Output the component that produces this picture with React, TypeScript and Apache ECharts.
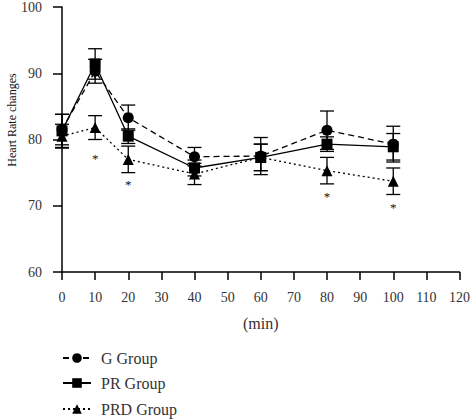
import React, { useEffect, useRef } from "react";
import * as echarts from "echarts";

const times = [0, 10, 20, 40, 60, 80, 100];
const gValues = [81.5, 90.3, 83.3, 77.4, 77.5, 81.4, 79.3];
const gErrors = [2.3, 1.8, 1.9, 1.4, 2.8, 2.9, 2.7];
const prValues = [81.3, 91.4, 80.5, 75.7, 77.3, 79.3, 78.9];
const prErrors = [2.5, 2.3, 1.1, 1.2, 2.0, 1.1, 2.0];
const prdValues = [80.5, 81.8, 77.0, 74.8, 77.3, 75.3, 73.7];
const prdErrors = [1.8, 1.8, 2.0, 1.6, 2.0, 2.0, 2.0];
const starTimes = [10, 20, 80, 100];
const starValues = [77.1, 73.2, 71.4, 69.7];
const seriesNames = ["G Group", "PR Group", "PRD Group"];

const FONT = "Liberation Serif";
const INK = "#333";

function errorSeries(values: number[], errors: number[]) {
  return {
    type: "custom",
    silent: true,
    z: 1,
    itemStyle: { color: "#000" },
    data: times.map((t, i) => [t, values[i] - errors[i], values[i] + errors[i]]),
    renderItem: (params: any, api: any) => {
      const x = api.value(0);
      const lo = api.coord([x, api.value(1)]);
      const hi = api.coord([x, api.value(2)]);
      const w = 7;
      const style = { stroke: "#000", lineWidth: 1.3 };
      return {
        type: "group",
        children: [
          { type: "line", shape: { x1: lo[0], y1: lo[1], x2: hi[0], y2: hi[1] }, style },
          { type: "line", shape: { x1: lo[0] - w, y1: lo[1], x2: lo[0] + w, y2: lo[1] }, style },
          { type: "line", shape: { x1: hi[0] - w, y1: hi[1], x2: hi[0] + w, y2: hi[1] }, style },
        ],
      };
    },
  };
}

export default function App() {
  const ref = useRef<HTMLDivElement>(null);
  useEffect(() => {
    if (!ref.current) return;
    const chart = echarts.init(ref.current, null, { renderer: "svg" });
    const lineBase = (name: string, values: number[], symbol: string, type: any, size: number) => ({
      name,
      type: "line",
      z: 3,
      data: times.map((t, i) => [t, values[i]]),
      symbol,
      symbolSize: size,
      showAllSymbol: true,
      itemStyle: { color: "#000" },
      lineStyle: { color: "#000", width: 1.3, type },
    });
    const legendTops = [350, 375, 401];
    chart.setOption({
      animation: false,
      backgroundColor: "#fff",
      grid: { left: 62, right: 12, top: 7, bottom: 147 },
      legend: seriesNames.map((n, i) => ({
        left: 62,
        top: legendTops[i],
        padding: 0,
        itemWidth: 28,
        itemHeight: 12,
        data: [n],
        textStyle: { fontFamily: FONT, fontSize: 16, color: INK, padding: [0, 0, 0, 5] },
      })),
      xAxis: {
        type: "value",
        min: 0,
        max: 120,
        interval: 10,
        name: "(min)",
        nameLocation: "middle",
        nameGap: 43,
        nameTextStyle: { fontFamily: FONT, fontSize: 16, color: INK },
        axisLine: { lineStyle: { color: "#000", width: 1.5 } },
        axisTick: { length: 8, lineStyle: { color: "#000", width: 1.5 } },
        axisLabel: { margin: 18, fontFamily: FONT, fontSize: 14, color: INK },
        splitLine: { show: false },
      },
      yAxis: {
        type: "value",
        min: 60,
        max: 100,
        interval: 10,
        axisLine: { show: true, lineStyle: { color: "#000", width: 1.5 } },
        axisTick: { show: true, length: 9, lineStyle: { color: "#000", width: 1.5 } },
        axisLabel: { margin: 20, fontFamily: FONT, fontSize: 14, color: INK },
        splitLine: { show: false },
      },
      graphic: [
        {
          type: "text",
          x: 12,
          y: 120,
          rotation: Math.PI / 2,
          style: {
            text: "Heart Rate changes",
            fontFamily: FONT,
            fontSize: 12,
            fill: "#111",
            textAlign: "center",
            textVerticalAlign: "middle",
          },
        },
      ],
      series: [
        errorSeries(gValues, gErrors),
        errorSeries(prValues, prErrors),
        errorSeries(prdValues, prdErrors),
        lineBase("G Group", gValues, "circle", [6, 4], 11),
        lineBase("PR Group", prValues, "rect", "solid", 11),
        lineBase("PRD Group", prdValues, "triangle", [2, 3], 11),
        {
          type: "custom",
          silent: true,
          z: 4,
          itemStyle: { color: "#000" },
          data: starTimes.map((t, i) => [t, starValues[i]]),
          renderItem: (params: any, api: any) => {
            const p = api.coord([api.value(0), api.value(1)]);
            return {
              type: "text",
              x: p[0],
              y: p[1],
              style: {
                text: "*",
                fontFamily: FONT,
                fontSize: 13,
                fill: "#111",
                textAlign: "center",
                textVerticalAlign: "middle",
              },
            };
          },
        },
      ],
    });
    return () => chart.dispose();
  }, []);
  return <div ref={ref} style={{ width: 473, height: 419, position: "absolute", left: 0, top: 0 }} />;
}
